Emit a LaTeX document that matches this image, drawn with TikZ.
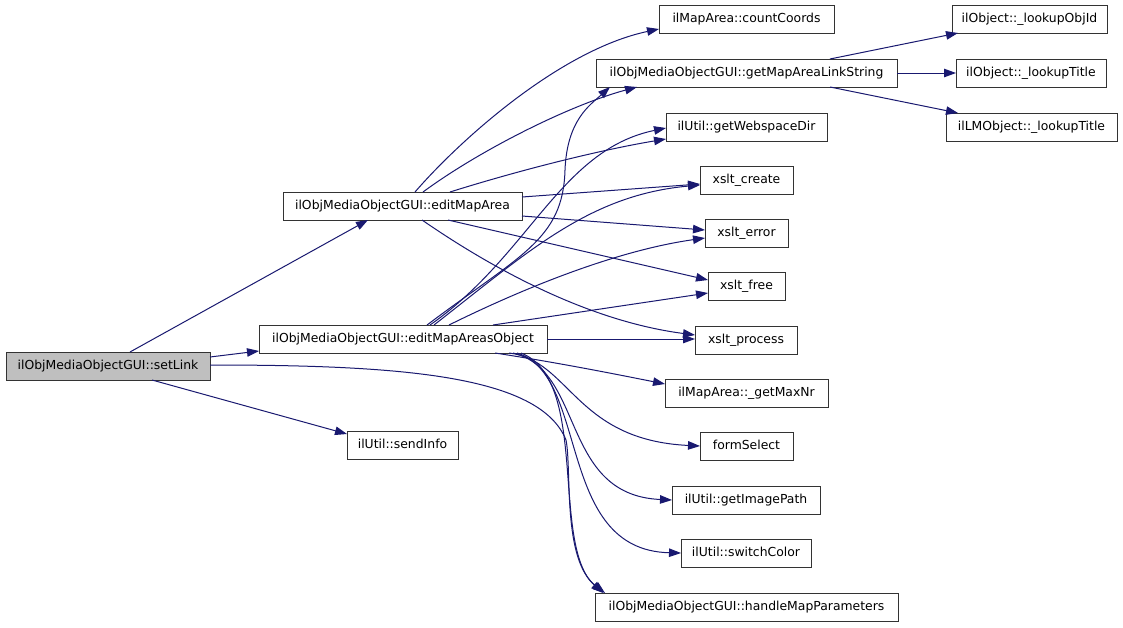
\documentclass[tikz,border=0pt]{standalone}
\usepackage{fontspec}
\setmainfont{DejaVu Sans}
\usetikzlibrary{arrows.meta,calc}
\definecolor{edgecol}{HTML}{191970}
\definecolor{boxborder}{HTML}{333333}
\definecolor{boxfill}{HTML}{BFBFBF}
\begin{document}
\begin{tikzpicture}[x=1pt,y=-1pt,
  box/.style={draw=boxborder, line width=1pt, fill=white, inner sep=0pt, outer sep=0pt,
    minimum height=28pt, text height=9.2pt, text depth=2.6pt,
    font=\fontsize{12.4}{14}\selectfont, anchor=center},
  edge/.style={draw=edgecol, line width=1pt, -{Triangle[length=12pt,width=8.5pt]}},
]
\useasboundingbox[fill=white] (0,0) rectangle (1123,627);

\node[box, minimum width=204pt, fill=boxfill] (sl) at (108,366) {ilObjMediaObjectGUI::setLink};
\node[box, minimum width=239pt] (ema) at (402.5,206) {ilObjMediaObjectGUI::editMapArea};
\node[box, minimum width=288pt] (emao) at (403,339) {ilObjMediaObjectGUI::editMapAreasObject};
\node[box, minimum width=111pt] (si) at (402.5,445) {ilUtil::sendInfo};
\node[box, minimum width=175pt] (cc) at (746.5,19) {ilMapArea::countCoords};
\node[box, minimum width=301pt] (gmal) at (746.5,73) {ilObjMediaObjectGUI::getMapAreaLinkString};
\node[box, minimum width=161pt] (gwd) at (746.5,127) {ilUtil::getWebspaceDir};
\node[box, minimum width=93pt] (xc) at (746.5,180) {xslt\_create};
\node[box, minimum width=83pt] (xe) at (746.5,233) {xslt\_error};
\node[box, minimum width=77pt] (xf) at (746.5,286) {xslt\_free};
\node[box, minimum width=102pt] (xp) at (746,340) {xslt\_process};
\node[box, minimum width=163pt] (gmn) at (746.5,393) {ilMapArea::\_getMaxNr};
\node[box, minimum width=93pt] (fs) at (746.5,446) {formSelect};
\node[box, minimum width=148pt] (gip) at (746,500) {ilUtil::getImagePath};
\node[box, minimum width=130pt] (sc) at (746,553) {ilUtil::switchColor};
\node[box, minimum width=303pt] (hmp) at (746.5,607) {ilObjMediaObjectGUI::handleMapParameters};
\node[box, minimum width=155pt] (loi) at (1029.5,19) {ilObject::\_lookupObjId};
\node[box, minimum width=150pt] (lt) at (1031,73) {ilObject::\_lookupTitle};
\node[box, minimum width=171pt] (lml) at (1031.5,127) {ilLMObject::\_lookupTitle};

% setLink
\draw[edge] ($(sl.north west)+(124,0)$) -- ($(ema.south west)+(85,0)$);
\draw[edge] ($(sl.north east)+(0,5)$) -- ($(emao.north west)+(0,26)$);
\draw[edge] ($(sl.south west)+(146,0)$) -- ($(si.north west)+(0,3)$);
\draw[edge] ($(sl.north east)+(0,13)$) .. controls (400,365) and (540,375) .. (566,440)
  .. controls (572,470) and (562,560) .. ($(hmp.north west)+(10,0)$);

% editMapArea
\draw[edge] ($(ema.north west)+(132,0)$) .. controls (460,140) and (560,50) .. ($(cc.north west)+(0,24)$);
\draw[edge] ($(ema.north west)+(140,0)$) .. controls (480,150) and (570,105) .. ($(gmal.south west)+(41,0)$);
\draw[edge] ($(ema.north west)+(167,0)$) .. controls (520,170) and (600,150) .. ($(gwd.north west)+(0,26)$);
\draw[edge] ($(ema.north east)+(0,5)$) -- ($(xc.north west)+(0,18)$);
\draw[edge] ($(ema.north east)+(0,24)$) -- ($(xe.north west)+(0,11)$);
\draw[edge] ($(ema.south west)+(165,0)$) -- ($(xf.north west)+(0,8)$);
\draw[edge] ($(ema.south west)+(139,0)$) .. controls (480,260) and (580,320) .. ($(xp.north west)+(0,9)$);

% editMapAreasObject
\draw[edge] ($(emao.north west)+(168,0)$) .. controls (520,255) and (563,240) .. (565,170)
  .. controls (567,120) and (590,105) .. ($(gmal.south west)+(14,0)$);
\draw[edge] ($(emao.north west)+(171,0)$) .. controls (530,255) and (560,150) .. ($(gwd.north west)+(0,15)$);
\draw[edge] ($(emao.north west)+(175,0)$) .. controls (530,250) and (590,195) .. ($(xc.north west)+(0,19)$);
\draw[edge] ($(emao.north west)+(190,0)$) .. controls (530,285) and (620,250) .. ($(xe.north west)+(0,19)$);
\draw[edge] ($(emao.north west)+(234,0)$) -- ($(xf.north west)+(0,21)$);
\draw[edge] ($(emao.north east)+(0,14)$) -- ($(xp.north west)+(0,13)$);
\draw[edge] ($(emao.south west)+(236,0)$) .. controls (560,363) and (620,375) .. ($(gmn.north west)+(0,5)$);
\draw[edge] ($(emao.south west)+(250,0)$) .. controls (570,360) and (575,440) .. ($(fs.north west)+(0,14)$);
\draw[edge] ($(emao.south west)+(254,0)$) .. controls (585,370) and (560,495) .. ($(gip.north west)+(0,14)$);
\draw[edge] ($(emao.south west)+(258,0)$) .. controls (590,375) and (555,550) .. ($(sc.north west)+(0,14)$);
\draw[edge] ($(emao.south west)+(262,0)$) .. controls (590,380) and (550,545) .. ($(hmp.north west)+(8,0)$);

% getMapAreaLinkString
\draw[edge] ($(gmal.north west)+(234,0)$) -- ($(loi.south west)+(6,0)$);
\draw[edge] ($(gmal.north east)+(0,14)$) -- ($(lt.north west)+(0,14)$);
\draw[edge] ($(gmal.south west)+(234,0)$) -- ($(lml.north west)+(12,0)$);
\end{tikzpicture}
\end{document}
